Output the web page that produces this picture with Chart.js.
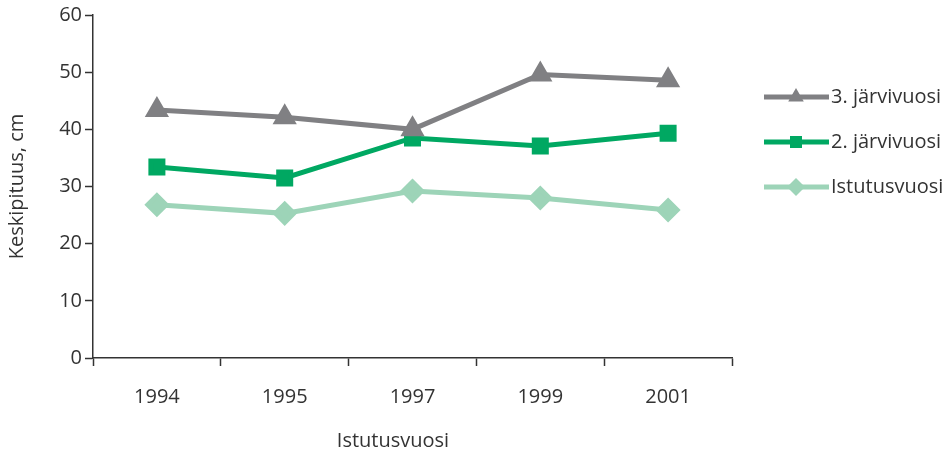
<!DOCTYPE html>
<html>
<head>
<meta charset="utf-8">
<script src="https://cdn.jsdelivr.net/npm/chart.js@4/dist/chart.umd.min.js"></script>
<style>
  html, body { margin: 0; padding: 0; background: #fff; }
  #wrap { width: 949px; height: 457px; }
</style>
</head>
<body>
<div id="wrap"><canvas id="myChart" width="949" height="457"></canvas></div>
<script>
// data
const years = ["1994", "1995", "1997", "1999", "2001"];
const thirdYear = [43.4, 42.1, 40.0, 49.6, 48.6];
const secondYear = [33.4, 31.5, 38.5, 37.1, 39.3];
const plantingYear = [26.8, 25.3, 29.2, 28.0, 25.9];
const yTicks = [0, 10, 20, 30, 40, 50, 60];

const font = { family: "'Open Sans', 'Noto Sans', sans-serif", size: 20 };
const textColor = "#333333";

// legend + x title drawn by hand (long line with marker in the middle)
const sideLegend = {
  id: "sideLegend",
  afterDraw(chart) {
    const ctx = chart.ctx;
    const rows = [97, 142, 187];
    ctx.save();
    chart.data.datasets.forEach((ds, i) => {
      const y = rows[i];
      ctx.strokeStyle = ds.borderColor;
      ctx.lineWidth = ds.borderWidth;
      ctx.beginPath();
      ctx.moveTo(764, y);
      ctx.lineTo(829, y);
      ctx.stroke();
      ctx.fillStyle = ds.pointBackgroundColor;
      ctx.strokeStyle = ds.pointBackgroundColor;
      Chart.helpers.drawPoint(ctx, {
        pointStyle: ds.pointStyle,
        radius: ds.pointRadius,
        rotation: 0,
        borderWidth: 0,
      }, 796, y);
      ctx.fillStyle = textColor;
      ctx.font = font.size + "px " + font.family;
      ctx.textAlign = "left";
      ctx.textBaseline = "middle";
      ctx.fillText(ds.label, 831, y);
    });
    ctx.textAlign = "center";
    ctx.fillText("Istutusvuosi", 393, 441);
    ctx.restore();
  },
};

const data = {
  labels: years,
  datasets: [
    {
      label: "3. järvivuosi",
      data: thirdYear,
      borderColor: "#808083",
      pointBackgroundColor: "#808083",
      pointBorderColor: "#808083",
      pointStyle: "triangle",
      pointRadius: 9,
      borderWidth: 5,
    },
    {
      label: "2. järvivuosi",
      data: secondYear,
      borderColor: "#00a862",
      pointBackgroundColor: "#00a862",
      pointBorderColor: "#00a862",
      pointStyle: "rect",
      pointRadius: 8.5,
      borderWidth: 5,
    },
    {
      label: "Istutusvuosi",
      data: plantingYear,
      borderColor: "#9dd4b8",
      pointBackgroundColor: "#9dd4b8",
      pointBorderColor: "#9dd4b8",
      pointStyle: "rectRot",
      pointRadius: 9,
      borderWidth: 5,
    },
  ],
};

const config = {
  type: "line",
  data,
  options: {
    responsive: false,
    animation: false,
    layout: { padding: { left: 0, top: 15, right: 217, bottom: 0 } },
    elements: { line: { tension: 0 }, point: { borderWidth: 0 } },
    plugins: {
      legend: { display: false },
      tooltip: { enabled: false },
    },
    scales: {
      x: {
        offset: true,
        grid: {
          offset: true,
          drawOnChartArea: false,
          tickLength: 8,
          tickColor: textColor,
          tickWidth: 1.5,
        },
        border: { color: textColor, width: 1.5 },
        ticks: { color: textColor, font, padding: 19, maxRotation: 0 },
        afterFit(scale) { scale.height = 99; },
      },
      y: {
        min: 0,
        max: 60,
        afterBuildTicks(scale) { scale.ticks = yTicks.map(v => ({ value: v })); },
        grid: {
          drawOnChartArea: false,
          tickLength: 8,
          tickColor: textColor,
          tickWidth: 1.5,
        },
        border: { color: textColor, width: 1.5 },
        ticks: { color: textColor, font, padding: 3 },
        title: {
          display: true,
          text: "Keskipituus, cm",
          color: textColor,
          font,
          padding: { top: 5, bottom: 0 },
        },
        afterFit(scale) { scale.width = 93; },
      },
    },
  },
  plugins: [sideLegend],
};

const chart = new Chart(document.getElementById("myChart"), config);
</script>
</body>
</html>
